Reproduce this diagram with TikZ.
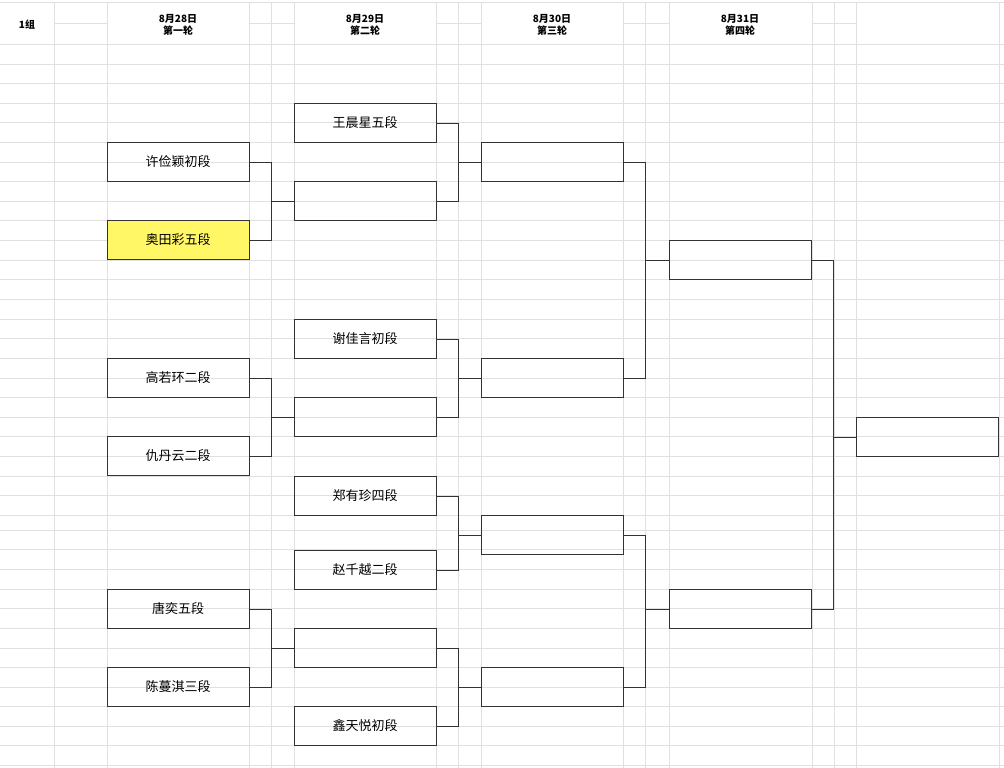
\documentclass[tikz,border=0pt]{standalone}
\usepackage{fontspec}
\setmainfont{Noto Sans CJK SC}
\usetikzlibrary{positioning,calc}
\tikzset{
  player/.style={draw=black!80,thin,anchor=north west,minimum width=142pt,minimum height=39pt,
    inner sep=0pt,font=\fontsize{13}{13}\selectfont},
  seed/.style={player,fill=yellow!60},
  header/.style={font=\fontsize{10}{12}\selectfont\bfseries,align=center},
  link/.style={draw=black!80,thin}
}
\begin{document}
\begin{tikzpicture}[x=1pt,y=-1pt]
\useasboundingbox (0,0) rectangle (1004,768);
% Draw the sheet grid
\foreach \y in {44,64,83,103,122,142,162,181,201,220,240,260,279,299,319,338,358,378,
  397,417,436,456,476,495,515,530,549,569,589,608,628,648,667,687,706,726,745,765}
  \draw[black!12] (0,\y) -- (1004,\y);
\foreach \x in {54,107,249,271,294,436,458,481,623,645,669,812,834,856,999}
  \draw[black!12] (\x,2) -- (\x,768);
\foreach \a/\b in {54/107,249/294,436/481,623/669,812/856}
  \draw[black!12] (\a,23) -- (\b,23);
\draw[black!12] (0,2) -- (1004,2);

% Headers
\node[header] (grp) at (27,25) {1组};
\node[header] (d1) at (178,25) {8月28日\\第一轮};
\node[header] (d2) at (365,25) {8月29日\\第二轮};
\node[header] (d3) at (552,25) {8月30日\\第三轮};
\node[header] (d4) at (740,25) {8月31日\\第四轮};

% First round
\node[player] (a1) at (107,142) {许俭颖初段};
\node[seed]   (a2) at (107,220) {奥田彩五段};
\node[player] (a3) at (107,358) {高若环二段};
\node[player] (a4) at (107,436) {仇丹云二段};
\node[player] (a5) at (107,589) {唐奕五段};
\node[player] (a6) at (107,667) {陈蔓淇三段};

% Second round
\node[player] (b1) at (294,103) {王晨星五段};
\node[player] (b2) at (294,181) {};
\node[player] (b3) at (294,319) {谢佳言初段};
\node[player] (b4) at (294,397) {};
\node[player] (b5) at (294,476) {郑有珍四段};
\node[player] (b6) at (294,550) {赵千越二段};
\node[player] (b7) at (294,628) {};
\node[player] (b8) at (294,706) {鑫天悦初段};

% Third, fourth round and final
\node[player] (c1) at (481,142) {};
\node[player] (c2) at (481,358) {};
\node[player] (c3) at (481,515) {};
\node[player] (c4) at (481,667) {};
\node[player] (e1) at (669,240) {};
\node[player] (e2) at (669,589) {};
\node[player] (f1) at (856,417) {};

% Brackets
\foreach \s/\t in {a1/b2,a2/b2,a3/b4,a4/b4,a5/b7,a6/b7,
  b1/c1,b2/c1,b3/c2,b4/c2,b5/c3,b6/c3,b7/c4,b8/c4,
  c1/e1,c2/e1,c3/e2,c4/e2,e1/f1,e2/f1}
  \draw[link] (\s.east) -- ++(22,0) |- (\t.west);
\end{tikzpicture}
\end{document}
